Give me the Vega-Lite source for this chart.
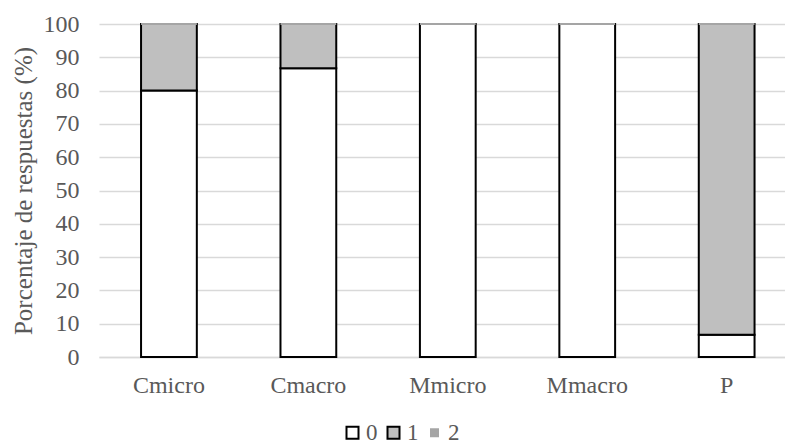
{
  "$schema": "https://vega.github.io/schema/vega-lite/v6.json",
  "autosize": "none",
  "width": 686,
  "height": 333,
  "padding": {"left": 99, "top": 24, "right": 0, "bottom": 88},
  "background": "white",
  "data": {"values": [
    {"cat": "Cmicro", "serie": "0", "valor": 80},
    {"cat": "Cmicro", "serie": "1", "valor": 20},
    {"cat": "Cmicro", "serie": "2", "valor": 0},
    {"cat": "Cmacro", "serie": "0", "valor": 86.7},
    {"cat": "Cmacro", "serie": "1", "valor": 13.3},
    {"cat": "Cmacro", "serie": "2", "valor": 0},
    {"cat": "Mmicro", "serie": "0", "valor": 100},
    {"cat": "Mmicro", "serie": "1", "valor": 0},
    {"cat": "Mmicro", "serie": "2", "valor": 0},
    {"cat": "Mmacro", "serie": "0", "valor": 100},
    {"cat": "Mmacro", "serie": "1", "valor": 0},
    {"cat": "Mmacro", "serie": "2", "valor": 0},
    {"cat": "P", "serie": "0", "valor": 6.7},
    {"cat": "P", "serie": "1", "valor": 93.3},
    {"cat": "P", "serie": "2", "valor": 0}
  ]},
  "transform": [{"filter": "datum.valor > 0 || datum.serie == '2'"}],
  "mark": {"type": "bar", "strokeWidth": 2},
  "encoding": {
    "x": {
      "field": "cat", "type": "nominal", "sort": null,
      "scale": {"paddingInner": 0.6, "paddingOuter": 0.26, "align": 0.58},
      "axis": {
        "title": null, "labelAngle": 0, "labelFont": "Liberation Serif", "labelFontSize": 24,
        "labelColor": "#595959", "domainColor": "#D9D9D9", "domainWidth": 1.5, "ticks": false, "labelPadding": 16
      }
    },
    "y": {
      "field": "valor", "type": "quantitative", "stack": "zero",
      "scale": {"domain": [0, 100], "nice": false},
      "axis": {
        "title": "Porcentaje de respuestas (%)", "titleFont": "Liberation Serif", "titleFontSize": 25,
        "titleFontWeight": "normal", "titleColor": "#595959", "titlePadding": 7,
        "values": [0,10,20,30,40,50,60,70,80,90,100],
        "labelFont": "Liberation Serif", "labelFontSize": 24, "labelColor": "#595959",
        "domain": false, "ticks": false, "labelPadding": 20,
        "gridColor": "#D9D9D9", "gridWidth": 1.5
      }
    },
    "order": {"field": "serie", "type": "ordinal", "sort": "ascending"},
    "color": {
      "field": "serie", "type": "nominal",
      "scale": {"domain": ["0", "1", "2"], "range": ["#FFFFFF", "#BFBFBF", "#A5A5A5"]},
      "legend": {
        "title": null, "orient": "none", "legendX": 242, "legendY": 397, "direction": "horizontal",
        "symbolType": "square", "symbolSize": 144, "symbolStrokeWidth": 2, "symbolStrokeColor": "#000000",
        "labelFont": "Liberation Serif", "labelFontSize": 23, "labelColor": "#595959",
        "columnPadding": 4, "labelOffset": 2,
        "encode": {"symbols": {"update": {
          "size": {"signal": "datum.label == '2' ? 81 : 144"},
          "strokeWidth": {"signal": "datum.label == '2' ? 0 : 2"}
        }}}
      }
    },
    "stroke": {
      "field": "serie", "type": "nominal",
      "scale": {"domain": ["0", "1", "2"], "range": ["#000000", "#000000", "#A5A5A5"]},
      "legend": null
    }
  },
  "config": {"view": {"stroke": null}}
}
